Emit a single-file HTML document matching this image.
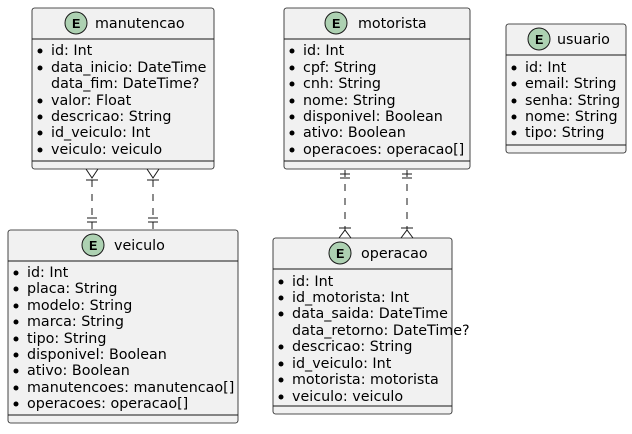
<!DOCTYPE html>
<html><head><meta charset="utf-8"><style>
html,body{margin:0;padding:0;background:#fff;}
svg text{font-family:"DejaVu Sans","Liberation Sans",sans-serif;font-size:14.3px;fill:#000;}
.b{fill:#F1F1F1;stroke:#181818;stroke-width:0.8;}
.l{stroke:#181818;stroke-width:1;}
.c{stroke:#181818;stroke-width:1;fill:none;}
.d{stroke:#181818;stroke-width:1;stroke-dasharray:7,7;fill:none;}
.e{fill:#ADD1B2;stroke:#181818;stroke-width:1;}
.et{font-family:"Liberation Mono","DejaVu Sans Mono",monospace !important;font-weight:bold;font-size:14px !important;}
</style></head><body>
<svg width="632" height="429" viewBox="0 0 632 429" xmlns="http://www.w3.org/2000/svg">
<!-- connectors -->
<path class="d" d="M92,180 V230 M153,180 V230 M345,170 V230 M407,170 V230"/>
<path class="c" d="M86,169 L92,178 L98,169 M86,180 H98 M147,169 L153,178 L159,169 M147,180 H159"/>
<path class="c" d="M87,218 H97 M87,222 H97 M148,218 H158 M148,222 H158"/>
<path class="c" d="M340,174 H350 M340,178 H350 M402,174 H412 M402,178 H412"/>
<path class="c" d="M339,238 L345,230 L351,238 M339,228 H351 M401,238 L407,230 L413,238 M401,228 H413"/>

<!-- manutencao -->
<rect class="b" x="32" y="8" width="182" height="161" rx="2.5"/>
<line class="l" x1="32" y1="39" x2="214" y2="39"/><line class="l" x1="32" y1="161" x2="214" y2="161"/>
<circle class="e" cx="76" cy="23" r="11"/><text class="et" x="72" y="28">E</text>
<text x="95" y="28">manutencao</text>
<g><circle cx="40" cy="51" r="2.5"/><circle cx="40" cy="68" r="2.5"/><circle cx="40" cy="101" r="2.5"/><circle cx="40" cy="117" r="2.5"/><circle cx="40" cy="133" r="2.5"/><circle cx="40" cy="150" r="2.5"/></g>
<text x="51" y="55">id: Int</text><text x="51" y="72">data_inicio: DateTime</text><text x="51" y="88">data_fim: DateTime?</text><text x="51" y="105">valor: Float</text><text x="51" y="121">descricao: String</text><text x="51" y="137">id_veiculo: Int</text><text x="51" y="154">veiculo: veiculo</text>

<!-- motorista -->
<rect class="b" x="284" y="8" width="186" height="161" rx="2.5"/>
<line class="l" x1="284" y1="39" x2="470" y2="39"/><line class="l" x1="284" y1="161" x2="470" y2="161"/>
<circle class="e" cx="336" cy="23" r="11"/><text class="et" x="332" y="28">E</text>
<text x="358" y="28">motorista</text>
<g><circle cx="292" cy="51" r="2.5"/><circle cx="292" cy="68" r="2.5"/><circle cx="292" cy="84" r="2.5"/><circle cx="292" cy="101" r="2.5"/><circle cx="292" cy="117" r="2.5"/><circle cx="292" cy="133" r="2.5"/><circle cx="292" cy="150" r="2.5"/></g>
<text x="303" y="55">id: Int</text><text x="303" y="72">cpf: String</text><text x="303" y="88">cnh: String</text><text x="303" y="105">nome: String</text><text x="303" y="121">disponivel: Boolean</text><text x="303" y="137">ativo: Boolean</text><text x="303" y="154">operacoes: operacao[]</text>

<!-- usuario -->
<rect class="b" x="506" y="24" width="120" height="129" rx="2.5"/>
<line class="l" x1="506" y1="55" x2="626" y2="55"/><line class="l" x1="506" y1="145" x2="626" y2="145"/>
<circle class="e" cx="539" cy="39" r="11"/><text class="et" x="535" y="44">E</text>
<text x="557" y="44">usuario</text>
<g><circle cx="514" cy="68" r="2.5"/><circle cx="514" cy="84" r="2.5"/><circle cx="514" cy="101" r="2.5"/><circle cx="514" cy="117" r="2.5"/><circle cx="514" cy="133" r="2.5"/></g>
<text x="525" y="72">id: Int</text><text x="525" y="88">email: String</text><text x="525" y="105">senha: String</text><text x="525" y="121">nome: String</text><text x="525" y="137">tipo: String</text>

<!-- veiculo -->
<rect class="b" x="8" y="230" width="230" height="193" rx="2.5"/>
<line class="l" x1="8" y1="261" x2="238" y2="261"/><line class="l" x1="8" y1="415" x2="238" y2="415"/>
<circle class="e" cx="93" cy="245" r="11"/><text class="et" x="89" y="250">E</text>
<text x="114" y="250">veiculo</text>
<g><circle cx="16" cy="273" r="2.5"/><circle cx="16" cy="289" r="2.5"/><circle cx="16" cy="306" r="2.5"/><circle cx="16" cy="322" r="2.5"/><circle cx="16" cy="339" r="2.5"/><circle cx="16" cy="355" r="2.5"/><circle cx="16" cy="371" r="2.5"/><circle cx="16" cy="388" r="2.5"/><circle cx="16" cy="404" r="2.5"/></g>
<text x="27" y="277">id: Int</text><text x="27" y="293">placa: String</text><text x="27" y="310">modelo: String</text><text x="27" y="326">marca: String</text><text x="27" y="343">tipo: String</text><text x="27" y="359">disponivel: Boolean</text><text x="27" y="375">ativo: Boolean</text><text x="27" y="392">manutencoes: manutencao[]</text><text x="27" y="408">operacoes: operacao[]</text>

<!-- operacao -->
<rect class="b" x="273" y="238" width="179" height="176" rx="2.5"/>
<line class="l" x1="273" y1="269" x2="452" y2="269"/><line class="l" x1="273" y1="406" x2="452" y2="406"/>
<circle class="e" cx="340" cy="253" r="11"/><text class="et" x="336" y="258">E</text>
<text x="361" y="258">operacao</text>
<g><circle cx="281" cy="282" r="2.5"/><circle cx="281" cy="298" r="2.5"/><circle cx="281" cy="314" r="2.5"/><circle cx="281" cy="347" r="2.5"/><circle cx="281" cy="364" r="2.5"/><circle cx="281" cy="380" r="2.5"/><circle cx="281" cy="397" r="2.5"/></g>
<text x="292" y="286">id: Int</text><text x="292" y="302">id_motorista: Int</text><text x="292" y="318">data_saida: DateTime</text><text x="292" y="335">data_retorno: DateTime?</text><text x="292" y="351">descricao: String</text><text x="292" y="368">id_veiculo: Int</text><text x="292" y="384">motorista: motorista</text><text x="292" y="401">veiculo: veiculo</text>
</svg>
</body></html>
